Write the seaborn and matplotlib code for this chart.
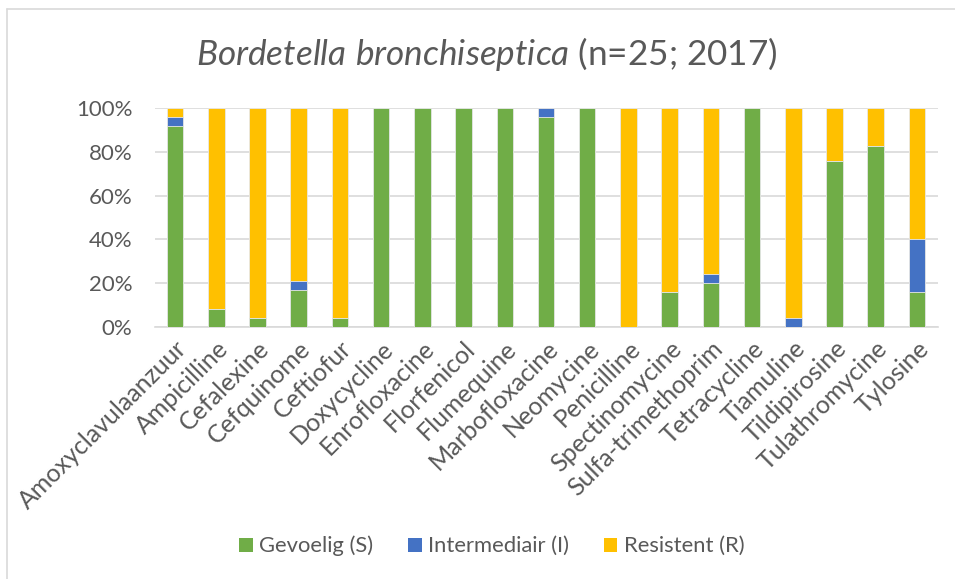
import matplotlib
matplotlib.use("Agg")
import matplotlib.pyplot as plt
import seaborn as sns
import pandas as pd
import numpy as np
from matplotlib.patches import Patch
from matplotlib.lines import Line2D

categories = ["Amoxyclavulaanzuur", "Ampicilline", "Cefalexine", "Cefquinome", "Ceftiofur",
              "Doxycycline", "Enrofloxacine", "Florfenicol", "Flumequine", "Marbofloxacine",
              "Neomycine", "Penicilline", "Spectinomycine", "Sulfa-trimethoprim", "Tetracycline",
              "Tiamuline", "Tildipirosine", "Tulathromycine", "Tylosine"]
gevoelig = [92, 8, 4, 16.7, 4, 100, 100, 100, 100, 96, 100, 0, 16, 20, 100, 0, 76, 82.6, 16]
intermediair = [4, 0, 0, 4.2, 0, 0, 0, 0, 0, 4, 0, 0, 0, 4, 0, 4, 0, 0, 24]
resistent = [4, 92, 96, 79.1, 96, 0, 0, 0, 0, 0, 0, 100, 84, 76, 0, 96, 24, 17.4, 60]
series_names = ["Gevoelig (S)", "Intermediair (I)", "Resistent (R)"]
colors = ["#70AD47", "#4472C4", "#FFC000"]
yticklabels = ["0%", "20%", "40%", "60%", "80%", "100%"]

sns.set_theme(style="white")
plt.rcParams["font.family"] = ["Lato", "DejaVu Sans"]
plt.rcParams["mathtext.fontset"] = "custom"
plt.rcParams["mathtext.it"] = "Lato:italic"
plt.rcParams["mathtext.rm"] = "Lato"

df = pd.DataFrame({"cat": categories, "S": gevoelig, "I": intermediair, "R": resistent})
df["SI"] = df["S"] + df["I"]
df["SIR"] = df["SI"] + df["R"]

fig = plt.figure(figsize=(9.55, 5.79), dpi=100)
ax = fig.add_axes([154.5 / 955, 1 - 327 / 579, (937.5 - 154.5) / 955, (327 - 108) / 579])

text_color = "#595959"
for col, c in zip(["SIR", "SI", "S"], [colors[2], colors[1], colors[0]]):
    sns.barplot(data=df, x="cat", y=col, color=c, width=0.4, ax=ax,
                edgecolor="#E8E8E8", linewidth=0.6, saturation=1, zorder=3)

ax.set_ylim(0, 100)
ax.set_xlim(-0.5, len(categories) - 0.5)
ax.set_yticks([0, 20, 40, 60, 80, 100])
ax.set_yticklabels(yticklabels, fontsize=16, color=text_color)
ax.yaxis.grid(True, color="#D9D9D9", linewidth=1.2, zorder=0)
ax.set_axisbelow(True)
ax.set_xticks(range(len(categories)))
ax.set_xticklabels(categories, rotation=45, ha="right", rotation_mode="anchor",
                   fontsize=18, color=text_color)
ax.tick_params(axis="both", length=0)
ax.tick_params(axis="y", pad=16)
ax.tick_params(axis="x", pad=7)
ax.set_xlabel("")
ax.set_ylabel("")
for s in ["top", "right", "left"]:
    ax.spines[s].set_visible(False)
ax.spines["bottom"].set_color("#D9D9D9")
ax.spines["bottom"].set_linewidth(1.2)

fig.text(487 / 955, 1 - 54 / 579, r"$\it{Bordetella\ bronchiseptica}$ (n=25; 2017)",
         ha="center", va="center", fontsize=25.3, color=text_color)

handles = [Patch(facecolor=c, edgecolor="none", label=n) for c, n in zip(colors, series_names)]
fig.legend(handles=handles, loc="center", bbox_to_anchor=(492 / 955, 1 - 546 / 579),
           ncol=3, frameon=False, fontsize=15.8, handlelength=0.6, handleheight=0.6,
           handletextpad=0.3, columnspacing=1.6, labelcolor=text_color)

fig.add_artist(Line2D([7 / 955, 7 / 955], [0, 1 - 9 / 579], transform=fig.transFigure,
                      color="#D9D9D9", linewidth=1.2))
fig.add_artist(Line2D([7 / 955, 1], [1 - 9 / 579, 1 - 9 / 579], transform=fig.transFigure,
                      color="#D9D9D9", linewidth=1.2))

fig.savefig("out.png", dpi=100)
